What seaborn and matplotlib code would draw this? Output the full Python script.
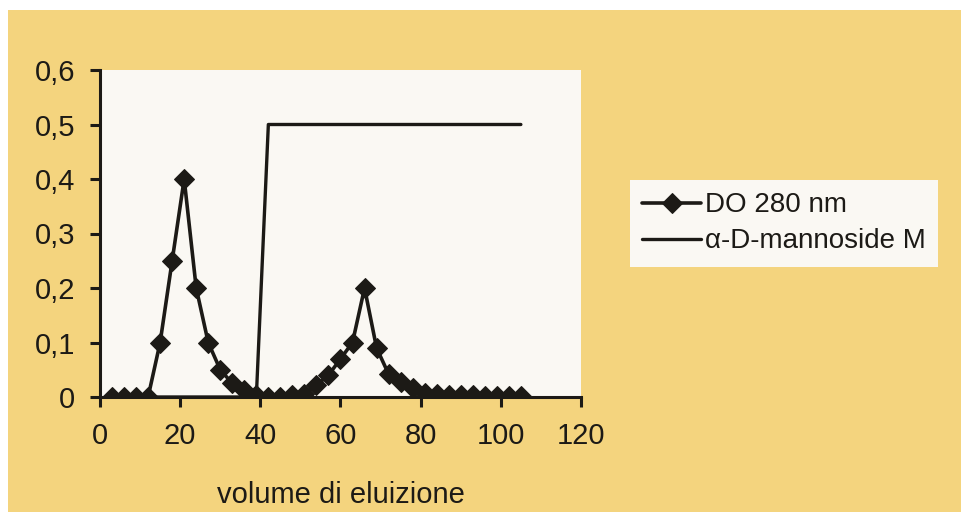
import matplotlib
matplotlib.use("Agg")
import matplotlib.pyplot as plt
import seaborn as sns
import pandas as pd
from matplotlib.patches import Rectangle

# ---- data ----
volume = [3, 6, 9, 12, 15, 18, 21, 24, 27, 30, 33, 36, 39, 42, 45, 48, 51, 54,
          57, 60, 63, 66, 69, 72, 75, 78, 81, 84, 87, 90, 93, 96, 99, 102, 105]
do_280 = [0, 0, 0, 0, 0.10, 0.25, 0.40, 0.20, 0.10, 0.05, 0.025, 0.013, 0.003,
          0, 0, 0.003, 0.006, 0.022, 0.04, 0.07, 0.10, 0.20, 0.09, 0.042, 0.028,
          0.016, 0.008, 0.005, 0.004, 0.003, 0.003, 0.002, 0.002, 0.001, 0.001]
mannoside = [0, 0, 0, 0, 0, 0, 0, 0, 0, 0, 0, 0, 0,
             0.5, 0.5, 0.5, 0.5, 0.5, 0.5, 0.5, 0.5, 0.5, 0.5, 0.5, 0.5,
             0.5, 0.5, 0.5, 0.5, 0.5, 0.5, 0.5, 0.5, 0.5, 0.5]
x_ticks = [0, 20, 40, 60, 80, 100, 120]
y_ticks = [0, 0.1, 0.2, 0.3, 0.4, 0.5, 0.6]
y_tick_labels = ["0", "0,1", "0,2", "0,3", "0,4", "0,5", "0,6"]
series_labels = ["DO 280 nm", "\u03b1-D-mannoside M"]
x_label = "volume di eluizione"

df = pd.DataFrame({"volume": volume, "do": do_280, "mann": mannoside})

sns.set_theme(style="white")
plt.rcParams["font.family"] = ["Liberation Sans", "DejaVu Sans"]

INK = "#1c1a16"
YELLOW = "#F4D47E"

fig = plt.figure(figsize=(9.62, 5.22), dpi=100, facecolor="white")
# scanned yellow page panel
fig.patches.append(Rectangle((8 / 962, 1 - 512 / 522), 954 / 962, 502 / 522,
                             transform=fig.transFigure, facecolor=YELLOW,
                             edgecolor="none", zorder=-10))

ax = fig.add_axes([100 / 962, 1 - 397 / 522, 481 / 962, 327 / 522])
ax.set_zorder(1)
ax.set_facecolor("#FAF8F3")

sns.lineplot(data=df, x="volume", y="do", ax=ax, color=INK, linewidth=2.6,
             marker="D", markersize=10, markeredgecolor=INK,
             label=series_labels[0])
sns.lineplot(data=df, x="volume", y="mann", ax=ax, color=INK, linewidth=2.4,
             label=series_labels[1])

ax.set_xlim(0, 120)
ax.set_ylim(0, 0.6)
ax.set_xticks(x_ticks)
ax.set_xticklabels([str(v) for v in x_ticks])
ax.set_yticks(y_ticks)
ax.set_yticklabels(y_tick_labels)
ax.set_ylabel("")
ax.set_xlabel(x_label, fontsize=21, color=INK, labelpad=22)

for side in ["top", "right"]:
    ax.spines[side].set_visible(False)
for side in ["left", "bottom"]:
    ax.spines[side].set_color(INK)
    ax.spines[side].set_linewidth(2.2)

ax.tick_params(axis="both", direction="out", length=7, width=2.2, color=INK,
               labelsize=21, labelcolor=INK)
ax.tick_params(axis="x", pad=11, bottom=True)
ax.tick_params(axis="y", pad=11, left=True)

leg = ax.legend(loc="upper left", bbox_to_anchor=(630 / 962, 1 - 180 / 522),
                bbox_transform=fig.transFigure, frameon=True, fontsize=20,
                handlelength=2.1, handletextpad=0.15, labelspacing=0.35,
                borderpad=0.45, fancybox=False, borderaxespad=0)
leg.get_frame().set_facecolor("#FAF8F3")
leg.get_frame().set_edgecolor("none")
leg.get_frame().set_alpha(1)
for t in leg.get_texts():
    t.set_color(INK)

fig.savefig("out.png", dpi=100, facecolor=fig.get_facecolor())
